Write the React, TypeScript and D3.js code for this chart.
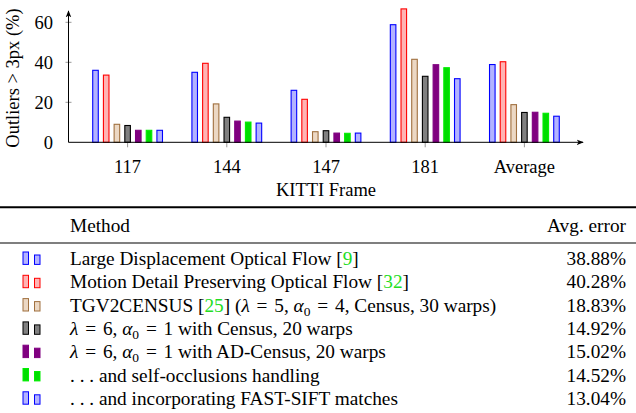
import React from "react";
import * as d3 from "d3";

const frames = ["117", "144", "147", "181", "Average"];
const methods = ["ldof", "mdp", "tgv", "census", "adcensus", "occl", "sift"];

const ldof = [36, 35, 26, 58.8, 38.88];
const mdp = [33.6, 39.5, 21.5, 66.7, 40.28];
const tgv = [9, 19.2, 5.3, 41.5, 18.83];
const census = [8.4, 12.5, 5.8, 33, 14.92];
const adcensus = [6, 10.6, 4.6, 38.8, 15.02];
const occl = [6, 10.1, 4.5, 37.3, 14.52];
const sift = [6, 9.6, 4.6, 31.8, 13.04];

const avgErrors = ["38.88%", "40.28%", "18.83%", "14.92%", "15.02%", "14.52%", "13.04%"];
const yTicks = [0, 20, 40, 60];

const seriesValues = [ldof, mdp, tgv, census, adcensus, occl, sift];

const strokes = ["#0000ff", "#ff0000", "#a0703f", "#000000", "#800080", "#00ee00", "#0000ff"];
const fills = ["#b3b3ff", "#ffb3b3", "#ecd8c4", "#808080", "#800080", "#00dd00", "#b3b3ff"];

const serif = { fontFamily: "Liberation Serif" };
const GREEN = "#22dd22";
const CHART_FS = 18.5;
const TABLE_FS = 19.3;

// math bits: italic symbol, "= n" with a bit of extra room like TeX
function Eq({ v, rest }: { v: string; rest: string }) {
  return (
    <>
      <tspan dx={2}>=</tspan>
      <tspan dx={2}>
        {" "}
        {v}
        {rest}
      </tspan>
    </>
  );
}

function Alpha0() {
  return (
    <>
      <tspan fontStyle="italic">α</tspan>
      <tspan fontSize={13.5} dy={4}>
        0
      </tspan>
      <tspan dy={-4}> </tspan>
    </>
  );
}

// row labels, some with green citations and maths
function MethodLabel({ i }: { i: number }) {
  switch (i) {
    case 0:
      return (
        <>
          Large Displacement Optical Flow [<tspan fill={GREEN}>9</tspan>]
        </>
      );
    case 1:
      return (
        <>
          Motion Detail Preserving Optical Flow [<tspan fill={GREEN}>32</tspan>]
        </>
      );
    case 2:
      return (
        <>
          TGV2CENSUS [<tspan fill={GREEN}>25</tspan>] (<tspan fontStyle="italic">λ</tspan>{" "}
          <Eq v="5" rest=", " />
          <Alpha0 />
          <Eq v="4" rest=", Census, 30 warps)" />
        </>
      );
    case 3:
      return (
        <>
          <tspan fontStyle="italic">λ</tspan> <Eq v="6" rest=", " />
          <Alpha0 />
          <Eq v="1" rest=" with Census, 20 warps" />
        </>
      );
    case 4:
      return (
        <>
          <tspan fontStyle="italic">λ</tspan> <Eq v="6" rest=", " />
          <Alpha0 />
          <Eq v="1" rest=" with AD-Census, 20 warps" />
        </>
      );
    case 5:
      return <>. . . and self-occlusions handling</>;
    default:
      return <>. . . and incorporating FAST-SIFT matches</>;
  }
}

export default function App() {
  const width = 636;
  const height = 413;

  const x0 = d3.scaleBand<string>().domain(frames).range([78, 574]).padding(0);
  const x1 = d3
    .scaleBand<string>()
    .domain(methods)
    .range([-37.45, 37.45])
    .paddingInner(0.48)
    .paddingOuter(0.24);
  const y = d3.scaleLinear().domain([0, 60]).range([142.3, 22.3]);

  const axisX = 68.5;
  const axisY = y(0);

  const rowY = d3.scaleLinear().domain([0, 1]).range([265, 288.3]);

  return (
    <svg width={width} height={height} style={{ position: "absolute", left: 0, top: 0, background: "#fff" }}>
      <defs>
        <marker id="arr" viewBox="0 0 10 10" refX="8" refY="5" markerWidth="8" markerHeight="8" orient="auto">
          <path d="M0,1.5 L9,5 L0,8.5 L2.5,5 Z" fill="#000" />
        </marker>
      </defs>

      {/* y ticks */}
      {yTicks.map(t => (
        <g key={t}>
          {t > 0 && <line x1={axisX - 3} x2={axisX + 3} y1={y(t)} y2={y(t)} stroke="#999" />}
          <text x={53} y={y(t)} dy="0.35em" textAnchor="end" fontSize={CHART_FS} style={serif}>
            {t}
          </text>
        </g>
      ))}

      {/* x ticks */}
      {frames.map(f => {
        const cx = x0(f)! + x0.bandwidth() / 2;
        return (
          <g key={f}>
            <line x1={cx} x2={cx} y1={axisY} y2={axisY + 5} stroke="#999" />
            <text x={cx} y={172.5} textAnchor="middle" fontSize={CHART_FS} style={serif}>
              {f}
            </text>
          </g>
        );
      })}

      {/* bars */}
      {frames.map((f, fi) => {
        const cx = x0(f)! + x0.bandwidth() / 2;
        return (
          <g key={f}>
            {methods.map((m, mi) => {
              const v = seriesValues[mi][fi];
              return (
                <rect
                  key={m}
                  x={cx + x1(m)!}
                  y={y(v)}
                  width={x1.bandwidth()}
                  height={axisY - y(v)}
                  fill={fills[mi]}
                  stroke={strokes[mi]}
                  strokeWidth={1.1}
                />
              );
            })}
          </g>
        );
      })}

      {/* axes */}
      <line x1={axisX} x2={axisX} y1={axisY} y2={11} stroke="#000" strokeWidth={1} markerEnd="url(#arr)" />
      <line x1={axisX} x2={583} y1={axisY} y2={axisY} stroke="#000" strokeWidth={1} markerEnd="url(#arr)" />

      <text transform={`translate(18.5,78) rotate(-90)`} textAnchor="middle" fontSize={CHART_FS} style={serif}>
        Outliers &gt; 3px (%)
      </text>
      <text x={x0("147")! + x0.bandwidth() / 2} y={195.5} textAnchor="middle" fontSize={CHART_FS} style={serif}>
        KITTI Frame
      </text>

      {/* table */}
      <line x1={0} x2={636} y1={207.3} y2={207.3} stroke="#000" strokeWidth={2} />
      <text x={70} y={232} fontSize={TABLE_FS} style={serif}>
        Method
      </text>
      <text x={626} y={232} fontSize={TABLE_FS} textAnchor="end" style={serif}>
        Avg. error
      </text>
      <line x1={0} x2={636} y1={243} y2={243} stroke="#000" strokeWidth={1.2} />

      {methods.map((m, i) => {
        const by = rowY(i);
        return (
          <g key={m}>
            <rect x={23} y={by - 13} width={5.5} height={12.4} fill={fills[i]} stroke={strokes[i]} strokeWidth={1} />
            <rect x={34.5} y={by - 10} width={5.5} height={9.4} fill={fills[i]} stroke={strokes[i]} strokeWidth={1} />
            <text x={70} y={by} fontSize={TABLE_FS} style={serif}>
              <MethodLabel i={i} />
            </text>
            <text x={626} y={by} fontSize={TABLE_FS} textAnchor="end" style={serif}>
              {avgErrors[i]}
            </text>
          </g>
        );
      })}
    </svg>
  );
}
